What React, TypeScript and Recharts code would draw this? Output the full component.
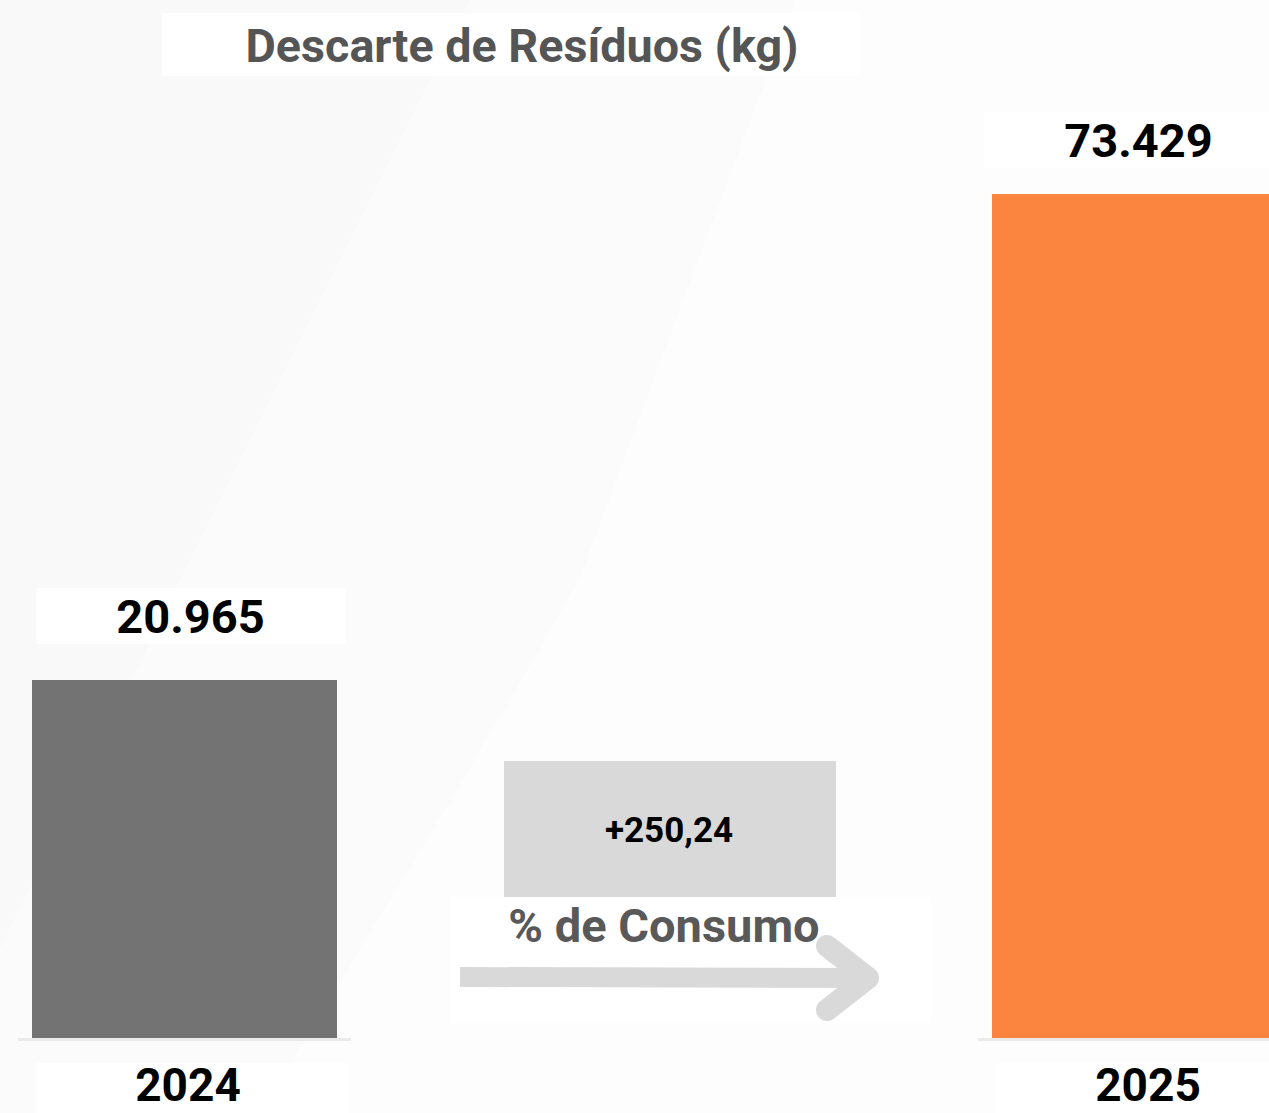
import { BarChart, Bar, XAxis, YAxis, Cell, LabelList } from "recharts";

const CATEGORIES = ["2024", "Variação", "2025"];
const VALUES = [20965, null, 73429];
const VALUE_LABELS = ["20.965", "", "73.429"];
const BAR_COLORS = ["#737373", "transparent", "#FB843F"];
const CHANGE_LABEL = "+250,24";
const CHANGE_CAPTION = "% de Consumo";
const TITLE = "Descarte de Resíduos (kg)";

// the bars in the original are not drawn from zero, they sit on a lower floor
const BAR_FLOOR = -17800;

// small hand nudges of the value label boxes, as placed on the slide
const LABEL_NUDGE = [
  { dx: 6, dy: -5 },
  { dx: 0, dy: 0 },
  { dx: -6, dy: 5 },
];

const FONT = "Roboto, 'Noto Sans', sans-serif";

const data = CATEGORIES.map((category, i) => ({
  category,
  value: VALUES[i],
  label: VALUE_LABELS[i],
}));

const maxValue = Math.max(...VALUES.filter((v): v is number => v !== null));

function ValueLabel(props: any) {
  const { x, y, width, value } = props;
  const v = Array.isArray(value) ? value[1] : value;
  const i = data.findIndex((d) => d.value === v);
  if (i < 0 || !data[i].label) return null;
  const { dx, dy } = LABEL_NUDGE[i];
  const cx = x + width / 2 + dx;
  return (
    <g>
      <rect x={cx - 154} y={y - 87 + dy} width={309} height={56} fill="#ffffff" />
      <text
        x={cx}
        y={y - 42 + dy}
        textAnchor="middle"
        fontFamily={FONT}
        fontWeight={700}
        fontSize={47}
        fill="#000000"
      >
        {data[i].label}
      </text>
    </g>
  );
}

function CategoryTick(props: any) {
  const { x, y, payload, index } = props;
  if (index === 1) {
    // change annotation in the middle slot
    return (
      <g>
        <rect x={x - 160} y={y - 278} width={332} height={136} fill="#d9d9d9" />
        <text
          x={x + 5}
          y={y - 197}
          textAnchor="middle"
          fontFamily={FONT}
          fontWeight={700}
          fontSize={35}
          fill="#000000"
        >
          {CHANGE_LABEL}
        </text>
        <rect x={x - 213} y={y - 142} width={480} height={126} fill="#ffffff" />
        <text
          x={x}
          y={y - 97}
          textAnchor="middle"
          fontFamily={FONT}
          fontWeight={700}
          fontSize={47}
          fill="#595959"
        >
          {CHANGE_CAPTION}
        </text>
        <line x1={x - 204} y1={y - 62} x2={x + 195} y2={y - 61} stroke="#d9d9d9" strokeWidth={20} />
        <polyline
          points={`${x + 163},${y - 93} ${x + 204},${y - 61} ${x + 163},${y - 29}`}
          fill="none"
          stroke="#d9d9d9"
          strokeWidth={22}
          strokeLinecap="round"
          strokeLinejoin="round"
        />
      </g>
    );
  }
  return (
    <g>
      <rect x={x - 166} y={y - 1} width={333} height={3} fill="#e9ebe9" />
      <rect x={x - 148} y={y + 24} width={311} height={60} fill="#ffffff" />
      <text
        x={x + 4}
        y={y + 62}
        textAnchor="middle"
        fontFamily={FONT}
        fontWeight={700}
        fontSize={46}
        fill="#000000"
      >
        {payload.value}
      </text>
    </g>
  );
}

export default function App() {
  return (
    <div
      style={{
        position: "absolute",
        left: 0,
        top: 0,
        width: 1269,
        height: 1113,
        overflow: "hidden",
        background: "#f9f9f9",
      }}
    >
      {/* faint diagonal bands of the slide background */}
      <svg width={1269} height={1113} style={{ position: "absolute", left: 0, top: 0 }}>
        <polygon points="470,0 795,0 579,580 463,780 260,1113 -80,1113 180,580" fill="#fbfbfb" />
        <polygon points="795,0 1269,0 1269,1113 260,1113 463,780 579,580" fill="#fdfdfd" />
        <rect x={162} y={13} width={698} height={63} fill="#ffffff" />
        <text
          x={522}
          y={62}
          textAnchor="middle"
          fontFamily={FONT}
          fontWeight={700}
          fontSize={47}
          fill="#555555"
          textLength={553}
          lengthAdjust="spacingAndGlyphs"
        >
          {TITLE}
        </text>
      </svg>
      <BarChart
        width={1440}
        height={1113}
        data={data}
        margin={{ top: 194, right: 0, bottom: 44, left: 0 }}
        style={{ position: "absolute", left: -56, top: 0 }}
      >
        <XAxis
          dataKey="category"
          axisLine={false}
          tickLine={false}
          tickSize={0}
          tickMargin={0}
          interval={0}
          height={30}
          tick={<CategoryTick />}
        />
        <YAxis hide type="number" domain={[BAR_FLOOR, maxValue]} allowDataOverflow />
        <Bar
          dataKey={(d: any) => (d.value === null ? null : [BAR_FLOOR, d.value])}
          barSize={305}
          isAnimationActive={false}
        >
          {data.map((d, i) => (
            <Cell key={d.category} fill={BAR_COLORS[i]} />
          ))}
          <LabelList content={<ValueLabel />} />
        </Bar>
      </BarChart>
    </div>
  );
}
